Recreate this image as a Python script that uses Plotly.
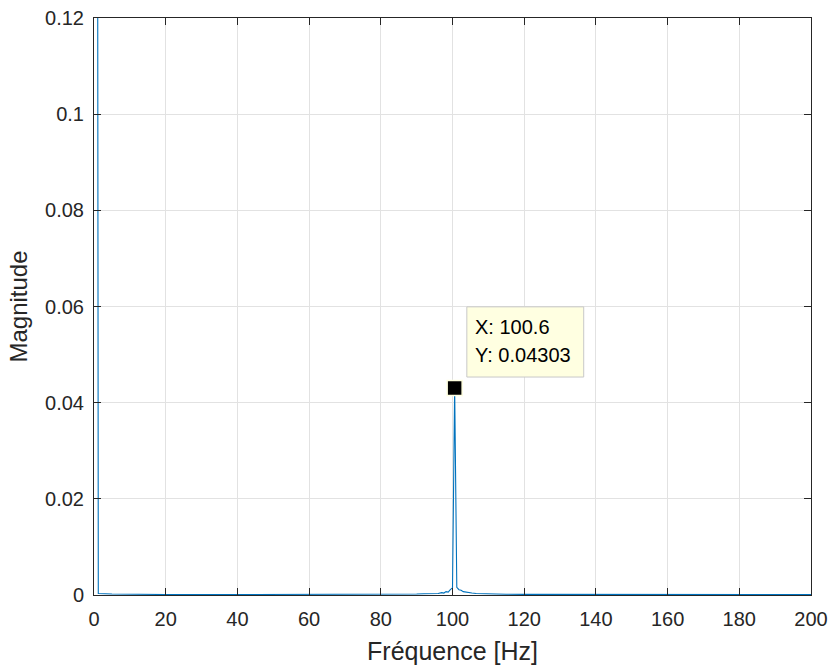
import plotly.graph_objects as go

# Spectrum samples (Hz, magnitude)
freq_hz = [0, 0.6, 1.2, 5, 10, 20, 30, 40, 50, 60, 70, 80, 85, 90, 92, 94, 95, 96,
           97, 97.6, 98.2, 98.8, 99.4, 100.0, 100.6, 101.2, 101.8, 102.4, 103.0,
           103.6, 104.2, 105.4, 106.6, 108.0, 110, 115, 120, 130, 140, 160, 180, 200]
magnitude = [0.9, 0.5, 0.0003, 0.0002, 0.00012, 0.0001, 0.00008, 0.00008, 0.00008,
             0.0001, 0.00012, 0.00015, 0.0002, 0.0002, 0.00025, 0.0003, 0.0004, 0.0003,
             0.0005, 0.0004, 0.0007, 0.0006, 0.0011, 0.0015, 0.04303, 0.0016, 0.0011,
             0.0010, 0.0007, 0.0006, 0.0005, 0.0004, 0.0003, 0.0003, 0.0002, 0.00015,
             0.00012, 0.0001, 0.0001, 0.00008, 0.00008, 0.00008]

tip_x = 100.6
tip_y = 0.04303

x_ticks = [0, 20, 40, 60, 80, 100, 120, 140, 160, 180, 200]
y_ticks = [0, 0.02, 0.04, 0.06, 0.08, 0.1, 0.12]
y_tick_text = ["0", "0.02", "0.04", "0.06", "0.08", "0.1", "0.12"]

FONT = "Liberation Sans, Arial, sans-serif"
DARK = "#262626"

fig = go.Figure()
fig.add_trace(go.Scatter(x=freq_hz, y=magnitude, mode="lines",
                         line=dict(color="#0072BD", width=1.1),
                         hoverinfo="skip", showlegend=False))
fig.add_trace(go.Scatter(x=[tip_x], y=[tip_y], mode="markers",
                         marker=dict(symbol="square", size=15, color="black",
                                     line=dict(color="#FFFFE1", width=1.5)),
                         hoverinfo="skip", showlegend=False))

# data tip box
fig.add_shape(type="rect", xref="x", yref="y",
              x0=tip_x + 3.4, x1=tip_x + 36.0,
              y0=tip_y + 0.0023, y1=tip_y + 0.0169,
              fillcolor="#FFFFE1", line=dict(color="#c8c8c8", width=1), layer="above")
fig.add_annotation(x=tip_x + 5.0, y=tip_y + 0.0127, xref="x", yref="y",
                   text="X: 100.6", showarrow=False, xanchor="left", yanchor="middle",
                   font=dict(family=FONT, size=20, color="black"))
fig.add_annotation(x=tip_x + 5.0, y=tip_y + 0.0068, xref="x", yref="y",
                   text="Y: 0.04303", showarrow=False, xanchor="left", yanchor="middle",
                   font=dict(family=FONT, size=20, color="black"))

axis_common = dict(showline=True, linecolor=DARK, linewidth=1, mirror="ticks",
                   ticks="inside", ticklen=7, tickcolor=DARK, tickwidth=1,
                   showgrid=True, gridcolor="#e2e2e2", gridwidth=1, zeroline=False,
                   tickfont=dict(family=FONT, size=20, color=DARK))

fig.update_xaxes(range=[0, 200], tickvals=x_ticks, ticklabelstandoff=6,
                 title=dict(text="Fréquence [Hz]", font=dict(family=FONT, size=25, color=DARK),
                            standoff=13),
                 **axis_common)
fig.update_yaxes(range=[0, 0.12], tickvals=y_ticks, ticktext=y_tick_text,
                 ticklabelstandoff=5,
                 title=dict(text="Magnitude", font=dict(family=FONT, size=24, color=DARK),
                            standoff=10),
                 **axis_common)

fig.update_layout(width=834, height=668,
                  margin=dict(l=94, r=23, t=18, b=73, autoexpand=False),
                  plot_bgcolor="white", paper_bgcolor="white",
                  font=dict(family=FONT, color=DARK))

fig.write_html("out.html", config={"displayModeBar": False},
               post_script="document.body.style.margin='0';document.body.style.overflow='hidden';")
